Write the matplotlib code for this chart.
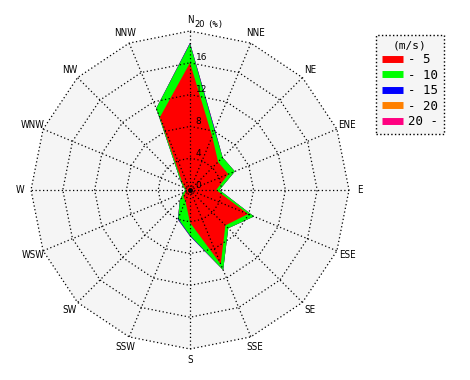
import numpy as np
import matplotlib
matplotlib.use("Agg")
import matplotlib.pyplot as plt
from matplotlib.lines import Line2D

# wind rose frequencies (%) per speed class, clockwise from N
directions = ["N", "NNE", "NE", "ENE", "E", "ESE", "SE", "SSE",
              "S", "SSW", "SW", "WSW", "W", "WNW", "NW", "NNW"]
speed_classes = ["- 5", "- 10", "- 15", "- 20", "20 -"]
class_colors = ["#ff0000", "#00ff00", "#0000ff", "#ff8000", "#ff0080"]
freq_5 = [16.0, 7.3, 5.0, 5.2, 3.3, 7.9, 6.3, 10.1, 4.1, 1.5, 1.2, 0.6, 0.5, 0.7, 1.4, 9.9]
freq_10 = [2.4, 0.8, 0.8, 0.9, 0.4, 0.8, 0.5, 0.8, 1.6, 2.4, 0.6, 0.3, 0.1, 0.2, 0.3, 1.2]
freq_15 = [0.1, 0.1, 0.0, 0.0, 0.0, 0.0, 0.0, 0.0, 0.1, 0.1, 0.0, 0.0, 0.0, 0.0, 0.0, 0.0]
freq_20 = [0.0] * 16
freq_over = [0.0] * 16
ring_values = [4, 8, 12, 16, 20]

W, H = 470, 380
CX, CY = 190, 190          # centre of the rose, px from top-left
PX_PER = 159 / 20          # px per percent

plt.rcParams["font.family"] = ["DejaVu Sans"]
fig = plt.figure(figsize=(W / 100, H / 100), dpi=100)
ax = fig.add_axes([0, 0, 1, 1])
ax.set_xlim(-CX / PX_PER, (W - CX) / PX_PER)
ax.set_ylim(-(H - CY) / PX_PER, CY / PX_PER)
ax.axis("off")

ang = np.deg2rad(np.arange(16) * 22.5)   # compass angle, clockwise from N
sx, sy = np.sin(ang), np.cos(ang)


def ring(r):
    r = np.asarray(r, dtype=float)
    x = np.append(r * sx, r[0] * sx[0])
    y = np.append(r * sy, r[0] * sy[0])
    return x, y


# panel background
bx, by = ring([20] * 16)
ax.fill(bx, by, color="#f5f5f5", lw=0, zorder=0)

# stacked classes: draw outermost first
cum = np.cumsum([freq_5, freq_10, freq_15, freq_20, freq_over], axis=0)
for k in range(len(speed_classes) - 1, -1, -1):
    x, y = ring(cum[k])
    ax.fill(x, y, color=class_colors[k], lw=0, zorder=1 + (4 - k) * 0.01)

# dotted grid
for rv in ring_values:
    x, y = ring([rv] * 16)
    ax.plot(x, y, color="black", ls=(0, (1, 2)), lw=0.9, zorder=3)
for i in range(16):
    ax.plot([0, 20 * sx[i]], [0, 20 * sy[i]], color="black",
            ls=(0, (1, 2)), lw=0.9, zorder=3)
ax.plot([0], [0], "o", color="black", ms=2.5, zorder=4)

# ring labels along the N spoke
for rv in [0, 4, 8, 12, 16]:
    ax.text(0.7, rv + 0.05, str(rv), fontsize=6.5, ha="left", va="bottom", zorder=5)
ax.text(0.6, 20.2, "20", fontsize=6, ha="left", va="bottom", zorder=5)
ax.text(2.2, 20.2, "(%)", fontsize=6.5, family="DejaVu Sans Mono",
        ha="left", va="bottom", zorder=5)

# compass labels
for i, d in enumerate(directions):
    rl = 21.4
    ax.text(rl * sx[i], rl * sy[i], d, fontsize=7, fontstretch="condensed",
            ha="center", va="center", zorder=5)

handles = [Line2D([], [], color=c, lw=5, solid_capstyle="butt") for c in class_colors]
leg = fig.legend(handles, speed_classes, title="(m/s)", loc="upper left",
                 bbox_to_anchor=(376 / W, 1 - 35 / H), frameon=True,
                 fancybox=False, handlelength=1.7, handletextpad=0.4,
                 labelspacing=0.2, borderpad=0.45, borderaxespad=0,
                 prop={"family": "DejaVu Sans Mono", "size": 9})
leg.get_title().set_fontfamily("DejaVu Sans Mono")
leg.get_title().set_fontsize(8)
fr = leg.get_frame()
fr.set_facecolor("#f5f5f5")
fr.set_edgecolor("black")
fr.set_linestyle(":")
fr.set_linewidth(1.0)
fr.set_alpha(1)

fig.savefig("out.png", dpi=100)
